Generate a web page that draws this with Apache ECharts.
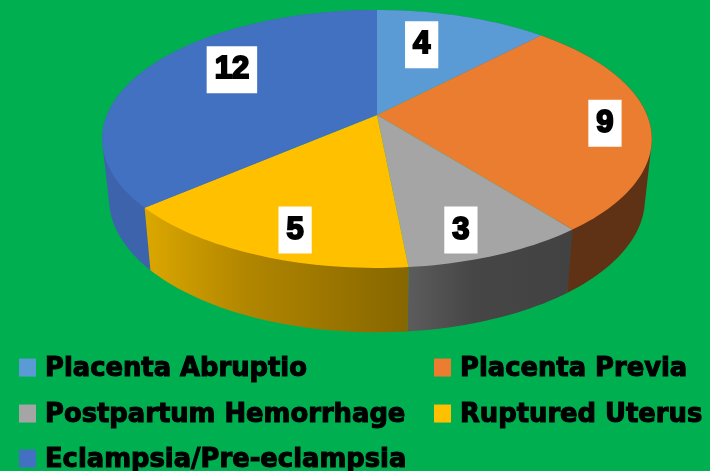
<!DOCTYPE html>
<html><head><meta charset="utf-8">
<style>html,body{margin:0;padding:0;background:#00b050}#c{width:710px;height:471px}</style>
<script src="https://cdn.jsdelivr.net/npm/echarts@6/dist/echarts.min.js"></script>
</head><body><div id="c"></div>
<script>
const categories = ['Placenta Abruptio','Placenta Previa','Postpartum Hemorrhage','Ruptured Uterus','Eclampsia/Pre-eclampsia'];
const values = [4, 9, 3, 5, 12];
const topColors = ['#5b9bd5','#eb7d31','#a5a5a5','#ffc000','#4371c2'];
const wallColors = [['#3f6e98','#3f6e98','#3f6e98'],['#5f3216','#5f3216','#5f3216'],['#5c5c5c','#464646','#424242'],['#dba700','#b08500','#866600'],['#3c63ab','#3c63ab','#3c63ab']];
const wallOrder = [1,2,3,3,1];
const labelNudge = [[-18,2],[38,4],[4,23],[-2,23],[18,-11]];
const legendSpots = [[19,356],[434,356],[19,402],[434,402],[19,447]];

// perspective view of the disc
const CX = 377, CY = 115, KX = 270, KY = 124.5, P = 0.186;
const total = values.reduce((a,b)=>a+b,0);
function project(deg, f){
  const t = deg*Math.PI/180, u = Math.sin(t)*f, v = Math.cos(t)*f, d = 1+P*v;
  return [CX+KX*u/d, CY-KY*v/d];
}
function lower(p){ return [CX+(p[0]-CX)*0.975, p[1]*1.033+55.5]; }
function arc(a,b){
  const out=[], n=Math.max(2,Math.ceil((b-a)/1.5));
  for(let i=0;i<=n;i++) out.push(project(a+(b-a)*i/n,1));
  return out;
}
function hull(pts){
  const s=pts.slice().sort((p,q)=>p[0]-q[0]||p[1]-q[1]);
  const cross=(o,a,b)=>(a[0]-o[0])*(b[1]-o[1])-(a[1]-o[1])*(b[0]-o[0]);
  const half=list=>{const h=[];for(const p of list){while(h.length>1&&cross(h[h.length-2],h[h.length-1],p)<=0)h.pop();h.push(p);}h.pop();return h;};
  return half(s).concat(half(s.slice().reverse()));
}
const starts=[]; values.reduce((s,v,i)=>(starts[i]=s,s+v),0);

function sliceRenderer(i){
  return function(){
    const a=starts[i]/total*360, b=(starts[i]+values[i])/total*360;
    const rim=arc(a,b);
    const wall=hull(rim.concat(rim.map(lower)));
    const c=project((a+b)/2,0.7);
    return {type:'group',children:[
      {type:'polygon',z2:wallOrder[i],silent:true,shape:{points:wall},
       style:{fill:new echarts.graphic.LinearGradient(0,0,1,0,[{offset:0,color:wallColors[i][0]},{offset:0.4,color:wallColors[i][1]},{offset:1,color:wallColors[i][2]}])}},
      {type:'polygon',z2:10,silent:true,shape:{points:[[CX,CY]].concat(rim)},style:{fill:topColors[i]}},
      {type:'text',z2:20,silent:true,style:{
        text:String(values[i]),x:c[0]+labelNudge[i][0],y:c[1]+labelNudge[i][1],
        align:'center',verticalAlign:'middle',
        font:'bold 31px "Liberation Sans"',fill:'#000',stroke:'#000',lineWidth:2,
        backgroundColor:'#fff',padding:[8,8,8,8]}}
    ]};
  };
}
const chart=echarts.init(document.getElementById('c'),null,{renderer:'canvas'});
chart.setOption({
  animation:false,
  backgroundColor:'#00b050',
  legend:categories.map((n,i)=>({
    data:[n],left:legendSpots[i][0],top:legendSpots[i][1],padding:0,
    orient:'horizontal',selectedMode:false,icon:'rect',itemWidth:17,itemHeight:18,
    formatter:'{a|{name}}',
    textStyle:{rich:{a:{fontFamily:'DejaVu Sans',fontWeight:'bold',fontSize:25.8,color:'#000',
      textBorderColor:'#000',textBorderWidth:1.1,padding:[4,0,0,4]}}}
  })),
  series:categories.map((n,i)=>({
    type:'custom',name:n,coordinateSystem:'none',
    itemStyle:{color:topColors[i]},
    data:[values[i]],
    renderItem:sliceRenderer(i)
  }))
});
</script></body></html>
